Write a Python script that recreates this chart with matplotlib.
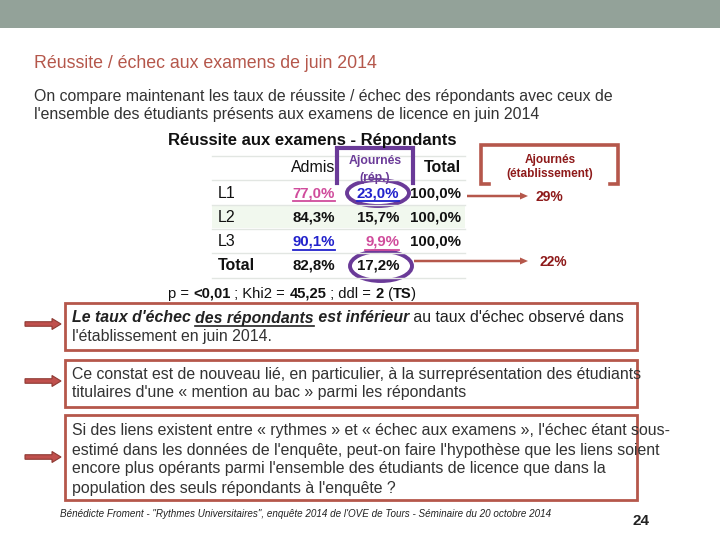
import matplotlib
matplotlib.use("Agg")
import matplotlib.pyplot as plt
from matplotlib.patches import Rectangle, Ellipse, FancyArrow

# ---- data ----
rows = ["L1", "L2", "L3", "Total"]
admis = ["77,0%", "84,3%", "90,1%", "82,8%"]
ajournes = ["23,0%", "15,7%", "9,9%", "17,2%"]
totals = ["100,0%", "100,0%", "100,0%", ""]
etab = ["29%", "22%"]
admis_col = ["#D04C9C", "#111111", "#2222CC", "#111111"]
ajour_col = ["#2222CC", "#111111", "#D04C9C", "#111111"]
underlined = [(0, 0), (0, 1), (2, 0), (2, 1)]

GRAY = "#93A299"
BROWN = "#B5574B"
DARKRED = "#8E1A1A"
PURPLE = "#6A3A98"
TXT = "#333333"
SANS = "Liberation Sans"

fig = plt.figure(figsize=(7.2, 5.4), dpi=100)
ax = fig.add_axes([0, 0, 1, 1])
ax.set_xlim(0, 720)
ax.set_ylim(540, 0)
ax.axis("off")
rend = fig.canvas.get_renderer()


def put(x, y, s, **kw):
    kw.setdefault("family", SANS)
    kw.setdefault("va", "center")
    return ax.text(x, y, s, **kw)


def width_of(s, **kw):
    t = put(0, 0, s, **kw)
    w = t.get_window_extent(rend).width
    t.remove()
    return w


def run(x, y, parts, size, color=TXT):
    # draw text pieces one after another on the same line
    for s, kw in parts:
        put(x, y, s, fontsize=size, color=color, **kw)
        x += width_of(s, fontsize=size, **kw)
    return x


# top band
ax.add_patch(Rectangle((0, 0), 720, 28, color=GRAY, lw=0))

# title + intro
put(34, 63, "Réussite / échec aux examens de juin 2014", fontsize=12.8, color=BROWN)
put(34, 97, "On compare maintenant les taux de réussite / échec des répondants avec ceux de",
    fontsize=11.45, color=TXT)
put(34, 115, "l'ensemble des étudiants présents aux examens de licence en juin 2014",
    fontsize=11.45, color=TXT)

# table
put(168, 140, "Réussite aux examens - Répondants", fontsize=12, weight="bold", color="#111111")
ax.add_patch(Rectangle((212, 205), 253, 23, color="#F1F8EE", lw=0))
for yl in [156, 180, 205, 229, 253, 278]:
    ax.plot([212, 465], [yl, yl], color="#E2E6E2", lw=1)

row_y = [193, 218, 242, 266]
put(335, 168, "Admis", fontsize=11.5, ha="right", color="#111111")
put(461, 168, "Total", fontsize=11.5, ha="right", weight="bold", color="#111111")
put(375, 161, "Ajournés", fontsize=8.8, ha="center", color=PURPLE, weight="bold")
put(375, 178, "(rép.)", fontsize=8.8, ha="center", color=PURPLE, weight="bold")

for i, y in enumerate(row_y):
    put(218, y, rows[i], fontsize=11.5, color="#111111",
        weight="bold" if rows[i] == "Total" else "normal")
    cells = [(335, admis[i], admis_col[i]), (399, ajournes[i], ajour_col[i]),
             (461, totals[i], "#111111")]
    for j, (xr, s, c) in enumerate(cells):
        t = put(xr, y, s, fontsize=10.8, ha="right", weight="bold", color=c)
        if (i, j) in underlined:
            w = t.get_window_extent(rend).width
            ax.plot([xr - w, xr], [y + 8, y + 8], color=c, lw=1.3)

run(168, 294, [("p = ", {}), ("<0,01", {"weight": "bold"}), (" ; Khi2 = ", {}),
               ("45,25", {"weight": "bold"}), (" ; ddl = ", {}), ("2", {"weight": "bold"}),
               (" (", {}), ("TS", {"weight": "bold"}), (")", {})], 10.6, color="#111111")

# purple highlight
ax.plot([337, 337, 413, 413], [183, 148, 148, 183], color=PURPLE, lw=3, solid_joinstyle="miter")
ax.add_patch(Ellipse((378, 193), 62, 26, fill=False, ec=PURPLE, lw=2.8))
ax.add_patch(Ellipse((381, 266), 62, 30, fill=False, ec=PURPLE, lw=2.8))

# établissement bracket + arrows
ax.plot([489, 481, 481, 618, 618, 610], [184, 184, 145, 145, 184, 184], color=BROWN, lw=2.6,
        solid_joinstyle="miter")
put(550, 160, "Ajournés", fontsize=8.5, ha="center", color=DARKRED, weight="bold")
put(550, 174, "(établissement)", fontsize=8.5, ha="center", color=DARKRED, weight="bold")
for (x0, y0), s, xt in zip([(467, 196), (414, 261)], etab, [536, 540]):
    ax.add_patch(FancyArrow(x0, y0, 528 - x0, 0, width=2.5, head_width=7, head_length=8,
                            length_includes_head=True, color=BROWN, lw=0))
    put(xt, y0 + 1, s, fontsize=10, color=DARKRED, weight="bold")

# boxes on the bottom, with the arrow on the left
boxes = [(303, 350), (360, 407), (415, 500)]
arrow_y = [324, 381, 457]
for (y0, y1), ya in zip(boxes, arrow_y):
    ax.add_patch(Rectangle((65, y0), 572, y1 - y0, fill=False, ec=BROWN, lw=2))
    ax.add_patch(FancyArrow(25, ya, 36, 0, width=4.5, head_width=11, head_length=9,
                            length_includes_head=True, fc="#C0504D", ec="#8E3A33", lw=0.8))

bi = {"weight": "bold", "style": "italic"}
run(72, 318, [("Le taux d'échec ", bi), ("des répondants", bi), (" est inférieur", bi),
              (" au taux d'échec observé dans", {})], 11.45, color="#222222")
ux = 72 + width_of("Le taux d'échec ", fontsize=11.45, **bi)
uw = width_of("des répondants", fontsize=11.45, **bi)
ax.plot([ux, ux + uw], [326, 326], color="#222222", lw=1.2)
put(72, 336, "l'établissement en juin 2014.", fontsize=11.45, color=TXT)

put(72, 375, "Ce constat est de nouveau lié, en particulier, à la surreprésentation des étudiants",
    fontsize=11.45, color=TXT)
put(72, 393, "titulaires d'une « mention au bac » parmi les répondants", fontsize=11.45, color=TXT)

para = ["Si des liens existent entre « rythmes » et « échec aux examens », l'échec étant sous-",
        "estimé dans les données de l'enquête, peut-on faire l'hypothèse que les liens soient",
        "encore plus opérants parmi l'ensemble des étudiants de licence que dans la",
        "population des seuls répondants à l'enquête ?"]
for k, line in enumerate(para):
    put(72, 431 + k * 19, line, fontsize=11.45, color=TXT)

put(60, 514, "Bénédicte Froment - \"Rythmes Universitaires\", enquête 2014 de l'OVE de Tours - Séminaire du 20 octobre 2014",
    fontsize=7.1, style="italic", color="#222222")
put(641, 521, "24", fontsize=11, weight="bold", ha="center", color="#222222")

fig.savefig("out.png", dpi=100)
